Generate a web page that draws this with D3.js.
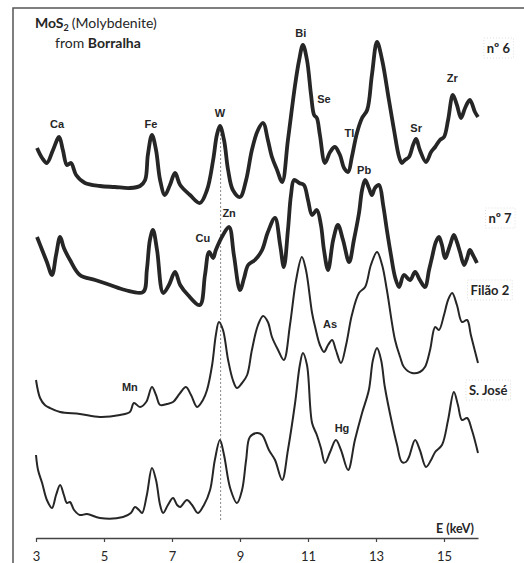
<!DOCTYPE html>
<html lang="en">
<head>
    <meta charset="UTF-8" />
    <title>MoS2 (Molybdenite) from Borralha - XRF spectra</title>
    <script src="https://d3js.org/d3.v7.min.js"></script>
    <style>
        body { margin: 0; background: #fff; }
        svg { display: block; }
    </style>
</head>

<body>
    <script>
        var w = 524;
        var h = 563;

        // Energy axis ticks (keV)
        var tickValues = [3, 5, 7, 9, 11, 13, 15];

        // Spectra: [energy keV, intensity a.u. (stacked offset included)]
        var spectrumN6 = [
            [3.03, 390], [3.18, 380], [3.32, 375], [3.50, 388], [3.68, 401], [3.79, 388], [3.91, 373],
            [4.03, 375], [4.18, 363], [4.44, 355], [4.88, 352], [5.32, 351], [5.76, 350], [6.06, 352],
            [6.21, 358], [6.29, 383], [6.41, 403], [6.53, 388], [6.65, 358], [6.79, 343], [6.94, 353],
            [7.09, 365], [7.24, 353], [7.53, 343], [7.82, 335], [8.03, 348], [8.21, 378], [8.32, 403],
            [8.41, 412], [8.53, 398], [8.65, 368], [8.79, 348], [9.00, 341], [9.18, 358], [9.35, 388],
            [9.53, 408], [9.68, 415], [9.82, 398], [9.94, 381], [10.09, 368], [10.24, 356], [10.41, 398],
            [10.62, 453], [10.74, 478], [10.85, 493], [10.97, 478], [11.09, 443], [11.18, 423], [11.26, 420],
            [11.35, 403], [11.50, 375], [11.65, 386], [11.79, 391], [11.94, 383], [12.06, 370], [12.18, 366],
            [12.29, 381], [12.44, 405], [12.59, 420], [12.74, 428], [12.88, 463], [13.03, 496],
            [13.18, 478], [13.38, 438], [13.53, 408], [13.68, 381], [13.76, 375], [13.85, 378], [13.97, 381],
            [14.09, 393], [14.18, 399], [14.29, 388], [14.47, 376], [14.62, 386], [14.74, 391], [14.88, 398],
            [15.00, 401], [15.12, 418], [15.26, 443], [15.38, 433], [15.50, 420], [15.62, 430], [15.76, 438],
            [15.91, 426], [16.0, 421]
        ];

        var spectrumN7 = [
            [3.03, 301], [3.18, 288], [3.32, 276], [3.47, 263], [3.59, 283], [3.71, 301], [3.82, 290],
            [4.00, 278], [4.29, 263], [4.74, 258], [5.18, 253], [5.62, 248], [6.15, 246], [6.26, 268],
            [6.35, 298], [6.44, 308], [6.56, 288], [6.74, 245], [6.91, 253], [7.09, 266], [7.24, 253],
            [7.47, 243], [7.82, 233], [7.97, 263], [8.09, 286], [8.21, 280], [8.29, 288], [8.50, 303],
            [8.68, 311], [8.82, 283], [9.00, 248], [9.12, 260], [9.24, 273], [9.44, 278], [9.65, 288],
            [9.82, 306], [10.03, 320], [10.18, 293], [10.29, 271], [10.41, 308], [10.50, 343], [10.59, 358],
            [10.74, 355], [10.88, 353], [11.00, 338], [11.12, 323], [11.26, 328], [11.38, 313], [11.47, 288],
            [11.59, 268], [11.74, 298], [11.88, 313], [12.03, 298], [12.21, 276], [12.35, 298], [12.50, 325],
            [12.59, 348], [12.68, 358], [12.79, 350], [12.88, 343], [12.97, 350], [13.09, 353], [13.21, 333],
            [13.32, 308], [13.44, 283], [13.56, 261], [13.68, 251], [13.82, 263], [14.00, 258], [14.15, 266],
            [14.29, 258], [14.44, 251], [14.56, 268], [14.65, 281], [14.76, 296], [14.85, 301], [14.94, 293],
            [15.03, 280], [15.18, 293], [15.29, 303], [15.38, 296], [15.47, 286], [15.59, 273], [15.68, 280],
            [15.76, 288], [15.85, 283], [15.97, 275]
        ];

        var spectrumFilao2 = [
            [3.00, 158], [3.12, 140], [3.26, 133], [3.41, 130], [3.71, 126], [4.29, 124], [4.88, 121],
            [5.47, 123], [5.76, 126], [5.88, 135], [6.06, 131], [6.24, 136], [6.41, 151], [6.53, 143],
            [6.65, 133], [6.85, 134], [7.03, 136], [7.24, 145], [7.41, 151], [7.56, 143], [7.74, 131],
            [7.91, 138], [8.03, 148], [8.18, 173], [8.29, 203], [8.38, 216], [8.50, 208], [8.65, 178],
            [8.79, 158], [8.91, 150], [9.06, 155], [9.21, 163], [9.35, 188], [9.53, 213], [9.68, 222],
            [9.82, 216], [9.94, 201], [10.12, 188], [10.29, 178], [10.47, 213], [10.65, 258], [10.82, 281],
            [10.94, 268], [11.12, 225], [11.21, 211], [11.35, 193], [11.47, 186], [11.59, 193], [11.71, 198],
            [11.82, 188], [11.97, 175], [12.12, 193], [12.29, 223], [12.50, 245], [12.68, 251], [12.85, 273],
            [13.03, 286], [13.18, 273], [13.32, 248], [13.56, 198], [13.71, 181], [13.82, 171], [14.06, 165],
            [14.29, 166], [14.44, 171], [14.59, 188], [14.74, 211], [14.85, 208], [15.00, 223], [15.12, 238],
            [15.24, 245], [15.38, 233], [15.53, 216], [15.68, 218], [15.79, 203], [16.0, 175]
        ];

        var spectrumSJose = [
            [3.00, 83], [3.06, 68], [3.18, 55], [3.32, 38], [3.47, 30], [3.59, 43], [3.71, 53], [3.82, 43],
            [3.91, 35], [4.00, 36], [4.12, 28], [4.29, 23], [4.50, 24], [4.88, 20], [5.56, 21], [5.79, 25],
            [5.91, 31], [6.03, 28], [6.12, 25], [6.26, 43], [6.41, 70], [6.53, 58], [6.65, 33], [6.74, 25],
            [6.88, 33], [7.03, 40], [7.15, 33], [7.24, 31], [7.44, 38], [7.59, 33], [7.76, 25], [7.94, 33],
            [8.12, 48], [8.26, 78], [8.41, 98], [8.53, 83], [8.71, 50], [8.91, 35], [9.06, 48], [9.18, 78],
            [9.29, 101], [9.50, 105], [9.65, 103], [9.85, 88], [10.03, 78], [10.24, 58], [10.41, 88],
            [10.62, 135], [10.76, 173], [10.85, 185], [10.97, 173], [11.12, 115], [11.26, 103], [11.38, 90],
            [11.50, 75], [11.65, 86], [11.82, 98], [11.97, 88], [12.18, 68], [12.38, 98], [12.59, 125],
            [12.79, 148], [12.91, 178], [13.03, 190], [13.15, 178], [13.26, 151], [13.47, 115], [13.62, 93],
            [13.76, 76], [13.88, 76], [13.97, 81], [14.15, 98], [14.29, 88], [14.47, 71], [14.62, 78],
            [14.74, 86], [14.94, 93], [15.12, 118], [15.29, 146], [15.41, 133], [15.53, 118], [15.68, 120],
            [15.82, 108], [16.0, 85]
        ];

        var seriesNames = ["nº 6", "nº 7", "Filão 2", "S. José"];
        var seriesNoisy = [true, true, false, false];
        // label anchor [energy, intensity] for each series name
        var seriesLabelPos = [[16.6, 485], [16.65, 315], [16.35, 243], [16.3, 143]];

        // Element annotations: [symbol, energy, intensity]
        var elementLabels = [
            ["Ca", 3.62, 410], ["Fe", 6.38, 410], ["W", 8.41, 421], ["Bi", 10.79, 501],
            ["Se", 11.47, 435], ["Tl", 12.22, 401], ["Pb", 12.65, 364], ["Sr", 14.18, 406],
            ["Zr", 15.24, 456], ["Cu", 7.91, 296], ["Zn", 8.68, 321], ["As", 11.65, 210],
            ["Mn", 5.76, 147], ["Hg", 12.0, 106]
        ];

        // W L-alpha reference line
        var wLine = { energy: 8.43, top: 412, bottom: 18 };

        var spectra = [spectrumN6, spectrumN7, spectrumFilao2, spectrumSJose];

        var svg = d3.select("body")
            .append("svg")
            .attr("width", w)
            .attr("height", h);

        // Scales
        var xScale = d3.scaleLinear()
            .domain([3, 16])
            .range([36, 478]);

        var yScale = d3.scaleLinear()
            .domain([0, 530])
            .range([538, 8]);

        var ink = "#262626";

        // Frame (partly cropped at right / bottom)
        svg.append("path")
            .attr("d", "M13," + h + "V8H" + w)
            .attr("fill", "none")
            .attr("stroke", "#555")
            .attr("stroke-width", 1.5);

        // Dotted W line
        svg.append("line")
            .attr("x1", xScale(wLine.energy))
            .attr("x2", xScale(wLine.energy))
            .attr("y1", yScale(wLine.top))
            .attr("y2", yScale(wLine.bottom))
            .attr("stroke", "#8a8a8a")
            .attr("stroke-width", 1)
            .attr("stroke-dasharray", "2,2");

        // Spectra lines
        var line = d3.line()
            .x(function(d) { return xScale(d[0]); })
            .y(function(d) { return yScale(d[1]); })
            .curve(d3.curveCatmullRom.alpha(0.5));

        svg.selectAll("path.spectrum")
            .data(spectra)
            .enter()
            .append("path")
            .attr("class", "spectrum")
            .attr("d", line)
            .attr("fill", "none")
            .attr("stroke", ink)
            .attr("stroke-width", function(d, i) { return seriesNoisy[i] ? 3.8 : 2; })
            .attr("stroke-linejoin", "round");

        // Element labels
        svg.selectAll("text.element")
            .data(elementLabels)
            .enter()
            .append("text")
            .attr("class", "element")
            .attr("x", function(d) { return xScale(d[1]); })
            .attr("y", function(d) { return yScale(d[2]); })
            .attr("text-anchor", "middle")
            .attr("font-family", "Liberation Sans, Arial, sans-serif")
            .attr("font-weight", "bold")
            .attr("font-size", 11)
            .attr("fill", ink)
            .text(function(d) { return d[0]; });

        // Series name labels with faint boxes
        var seriesLabel = svg.selectAll("g.series-label")
            .data(seriesNames)
            .enter()
            .append("g")
            .attr("class", "series-label")
            .attr("transform", function(d, i) {
                return "translate(" + xScale(seriesLabelPos[i][0]) + "," + yScale(seriesLabelPos[i][1]) + ")";
            });

        seriesLabel.append("text")
            .attr("text-anchor", "middle")
            .attr("font-family", "Lato, sans-serif")
            .attr("font-weight", "bold")
            .attr("font-size", 13)
            .attr("fill", ink)
            .text(function(d) { return d; });

        seriesLabel.each(function() {
            var g = d3.select(this);
            var bb = g.select("text").node().getBBox();
            g.insert("rect", "text")
                .attr("x", bb.x - 3)
                .attr("y", bb.y - 2)
                .attr("width", bb.width + 6)
                .attr("height", bb.height + 4)
                .attr("fill", "none")
                .attr("stroke", "#ddd")
                .attr("stroke-dasharray", "1,2");
        });

        // Title
        var title = svg.append("text")
            .attr("x", 35)
            .attr("y", 28)
            .attr("font-family", "Lato, sans-serif")
            .attr("font-size", 14)
            .attr("fill", ink);
        title.append("tspan").attr("font-weight", "bold").text("MoS");
        title.append("tspan").attr("font-weight", "bold").attr("font-size", 9).attr("dy", 3).text("2");
        title.append("tspan").attr("dy", -3).attr("dx", 3).text("(Molybdenite)");

        var title2 = svg.append("text")
            .attr("x", 55)
            .attr("y", 48)
            .attr("font-family", "Lato, sans-serif")
            .attr("font-size", 14)
            .attr("fill", ink);
        title2.append("tspan").text("from ");
        title2.append("tspan").attr("font-weight", "bold").text("Borralha");

        // X axis
        var xAxis = d3.axisBottom(xScale)
            .tickValues(tickValues)
            .tickSize(4)
            .tickSizeOuter(0)
            .tickPadding(10)
            .tickFormat(d3.format("d"));

        var axisG = svg.append("g")
            .attr("transform", "translate(0," + yScale(0) + ")")
            .call(xAxis);

        axisG.select(".domain").attr("stroke", "#444").attr("stroke-width", 1.5);
        axisG.selectAll(".tick line").attr("stroke", "#444").attr("stroke-width", 1.2);
        axisG.selectAll(".tick text")
            .attr("font-family", "Lato, sans-serif")
            .attr("font-size", 13)
            .attr("fill", ink);

        svg.append("text")
            .attr("x", 474)
            .attr("y", 533)
            .attr("text-anchor", "end")
            .attr("font-family", "Lato, sans-serif")
            .attr("font-weight", "bold")
            .attr("font-size", 12.5)
            .attr("fill", ink)
            .text("E (keV)");
    </script>
</body>
</html>
